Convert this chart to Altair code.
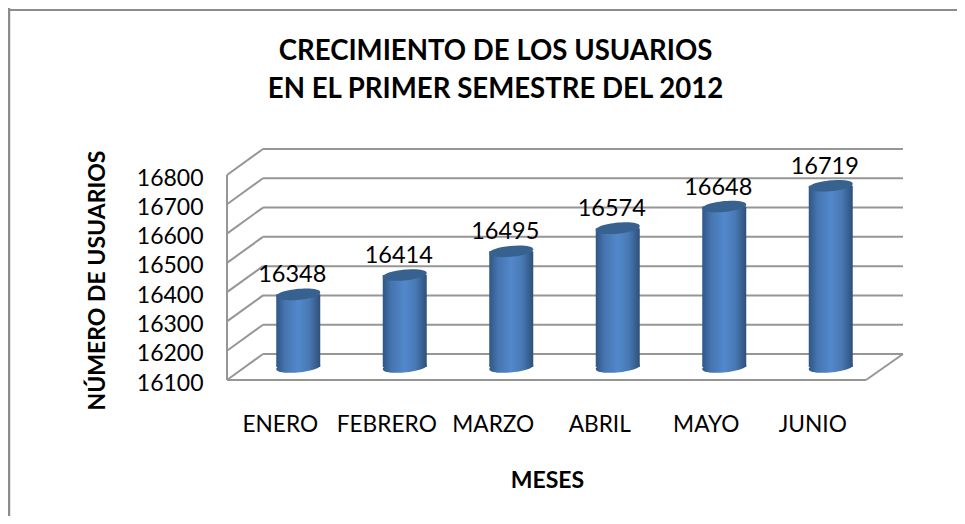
import altair as alt
import pandas as pd

meses = ["ENERO", "FEBRERO", "MARZO", "ABRIL", "MAYO", "JUNIO"]
usuarios = [16348, 16414, 16495, 16574, 16648, 16719]
marcas = [16100, 16200, 16300, 16400, 16500, 16600, 16700, 16800]

FONT = "Lato"
GRID = "#969696"
W, H = 949, 508
df = pd.DataFrame({"mes": meses, "usuarios": usuarios, "base": [16100] * 6})
ticks = pd.DataFrame({"t": marcas})
piso = pd.DataFrame({"t": [16100], "t2": [16800]})

xs = alt.Scale(domain=meses, range=[219, 858], paddingInner=0, paddingOuter=0)
ys = alt.Scale(domain=[16100, 16800], range=[372, 167])
grad = alt.Gradient(
    gradient="linear", x1=0, x2=1, y1=0, y2=0,
    stops=[alt.GradientStop(color="#2f5686", offset=0),
           alt.GradientStop(color="#4675b0", offset=0.2),
           alt.GradientStop(color="#5288cc", offset=0.5),
           alt.GradientStop(color="#4879b4", offset=0.75),
           alt.GradientStop(color="#2e5079", offset=1)])
ELIPSE = "M-1,0.09 C-1,-0.24 1,-0.42 1,-0.09 C1,0.24 -1,0.42 -1,0.09 Z"

eje_y = alt.Axis(values=marcas, format="d", title="NÚMERO DE USUARIOS", offset=-219,
                 domain=False, ticks=False, grid=False, labelPadding=24, labelOffset=3,
                 labelFont=FONT, labelFontSize=23, labelColor="black",
                 titleFont=FONT, titleFontSize=23, titleFontWeight="bold", titleColor="black",
                 titleX=-118, titleY=272, titleAngle=270)
eje_x = alt.Axis(labelAngle=0, title="MESES", offset=-(H - 372), domain=False, ticks=False, grid=False,
                 labelPadding=33, labelFont=FONT, labelFontSize=22.7, labelColor="black",
                 titleFont=FONT, titleFontSize=23, titleFontWeight="bold", titleColor="black",
                 titleX=539, titleY=89, labelOverlap=False)
Xc = alt.X("mes:N", scale=xs, sort=meses, axis=eje_x)

def Yq(campo):
    return alt.Y(campo, scale=ys, axis=eje_y)

marco_v = alt.Chart(piso).mark_rule(color="#8c8c8c", strokeWidth=2.5).encode(
    x=alt.value(1), y=alt.value(0), y2=alt.value(H))
marco_h = alt.Chart(piso).mark_rule(color="#8c8c8c", strokeWidth=2).encode(
    y=alt.value(2), x=alt.value(0), x2=alt.value(W))

fondo = alt.Chart(ticks).mark_rule(color=GRID, strokeWidth=2, yOffset=-26, y2Offset=-26).encode(
    x=alt.value(255), x2=alt.value(895), y=Yq("t:Q"), y2=alt.Y2("t:Q"))
lateral = alt.Chart(ticks).mark_rule(color=GRID, strokeWidth=2, y2Offset=-26).encode(
    x=alt.value(219), x2=alt.value(255), y=Yq("t:Q"), y2=alt.Y2("t:Q"))
eje = alt.Chart(piso).mark_rule(color=GRID, strokeWidth=2).encode(
    x=alt.value(219), y=Yq("t:Q"), y2=alt.Y2("t2:Q"))
frente = alt.Chart(piso).mark_rule(color=GRID, strokeWidth=2).encode(
    x=alt.value(219), x2=alt.value(858), y=Yq("t:Q"))
derecha = alt.Chart(piso).mark_rule(color=GRID, strokeWidth=2, y2Offset=-26).encode(
    x=alt.value(858), x2=alt.value(895), y=Yq("t:Q"), y2=alt.Y2("t:Q"))

base_el = alt.Chart(df).mark_point(shape=ELIPSE, size=1936, filled=True, opacity=1, fill=grad,
                                   xOffset=18, yOffset=-13, strokeWidth=0).encode(
    x=Xc, y=Yq("base:Q"))
barras = alt.Chart(df).mark_bar(width=44, xOffset=18, yOffset=-13, y2Offset=-13, fill=grad).encode(
    x=Xc, y=Yq("usuarios:Q"), y2=alt.Y2("base:Q"))
tapa = alt.Chart(df).mark_point(shape=ELIPSE, size=1936, filled=True, opacity=1, fill="#37618f",
                                xOffset=18, yOffset=-13, strokeWidth=0).encode(
    x=Xc, y=Yq("usuarios:Q"))
etiquetas = alt.Chart(df).mark_text(font=FONT, fontSize=23.5, color="black", xOffset=12, yOffset=-32,
                                    baseline="middle").encode(
    x=Xc, y=Yq("usuarios:Q"), text=alt.Text("usuarios:Q", format="d"))

chart = alt.layer(marco_v, marco_h, fondo, lateral, eje, frente, derecha, base_el, barras, tapa, etiquetas).properties(
    width=W, height=H, padding=0,
    autosize=alt.AutoSizeParams(type="none"),
    background="white",
    title=alt.TitleParams(
        text=["CRECIMIENTO DE LOS USUARIOS", "EN EL PRIMER SEMESTRE DEL 2012"],
        font=FONT, fontSize=27.6, fontWeight="bold", color="black", anchor="middle", frame="group",
        lineHeight=38, baseline="top", dx=13, dy=97, offset=0),
).configure_view(stroke=None)

chart.save("out.html", embed_options={"renderer": "svg", "actions": False})
